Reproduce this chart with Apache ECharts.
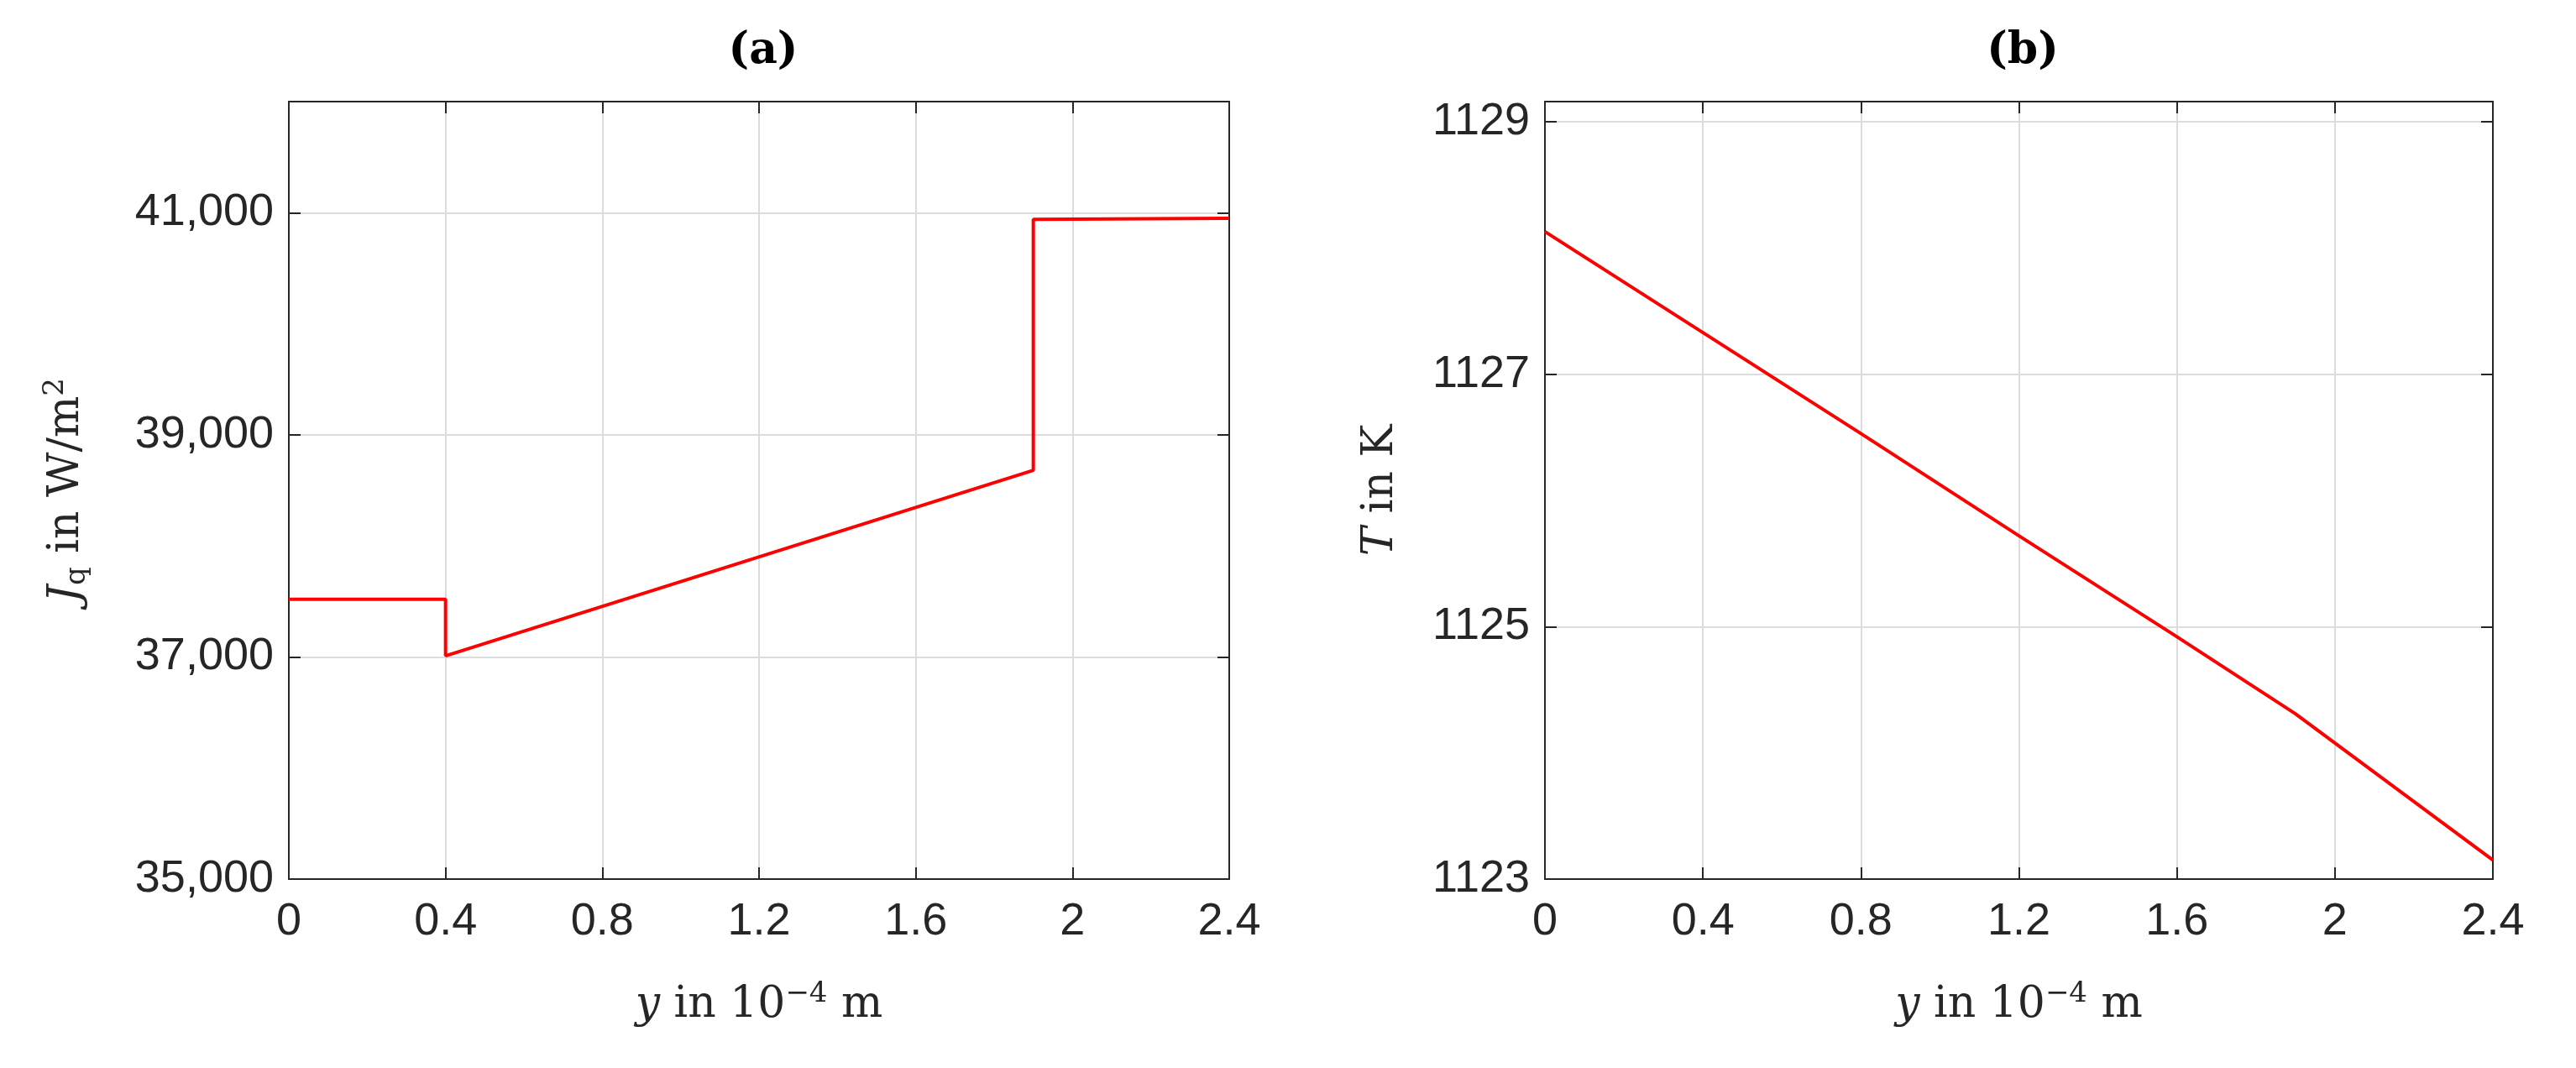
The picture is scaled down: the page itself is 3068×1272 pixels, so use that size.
<!DOCTYPE html>
<html>
<head>
<meta charset="utf-8">
<title>Jq and T profiles</title>
<script src="https://cdn.jsdelivr.net/npm/echarts@6/dist/echarts.min.js"></script>
<style>
  * { margin: 0; padding: 0; }
  body { background: #fff; }
  #main { width: 3068px; height: 1272px; }
</style>
</head>
<body>
<div id="main"></div>
<script>
// panel (a): heat flux, piecewise with jumps at 0.4 and 1.9
const fluxY = [0, 0.4, 0.4, 1.9, 1.9, 2.4];
const fluxJ = [37520, 37520, 37010, 38680, 40940, 40950];
// panel (b): temperature
const tempY = [0, 0.4, 0.8, 1.2, 1.6, 1.9, 2.4];
const tempT = [1128.13, 1127.33, 1126.53, 1125.72, 1124.92, 1124.31, 1123.15];

const tickFont = { fontFamily: 'Liberation Sans', fontSize: 54, color: '#262626' };
const serif = 'DejaVu Serif';
const axisCol = '#262626';
const tick = { show: true, inside: true, length: 14, lineStyle: { color: axisCol, width: 2 } };

function mirror(kind, gi, min, max, interval) {
    // box side with inward ticks and no labels
    return {
        type: 'value', gridIndex: gi, min: min, max: max, interval: interval,
        position: kind === 'x' ? 'top' : 'right',
        axisLine: { show: true, onZero: false, lineStyle: { color: axisCol, width: 2 } },
        axisTick: tick, axisLabel: { show: false }, splitLine: { show: false }
    };
}

function xMain(gi) {
    return {
        type: 'value', gridIndex: gi, min: 0, max: 2.4, interval: 0.4,
        axisLine: { show: true, onZero: false, lineStyle: { color: axisCol, width: 2 } },
        axisTick: tick,
        axisLabel: Object.assign({ margin: 24, formatter: v => String(+v.toFixed(1)) }, tickFont),
        splitLine: { show: true, lineStyle: { color: '#dcdcdc', width: 2 } },
        name: '{i|y} in 10{s|−4} m', nameLocation: 'middle', nameGap: 120,
        nameTextStyle: {
            fontFamily: serif, fontSize: 52, color: axisCol,
            rich: { i: { fontFamily: serif, fontStyle: 'italic', fontSize: 52 },
                    s: { fontFamily: serif, fontSize: 34, verticalAlign: 'top', padding: [0, 0, 26, 0] } }
        }
    };
}

const chart = echarts.init(document.getElementById('main'));
chart.setOption({
    animation: false,
    title: [
        { text: '(a)', left: 904, top: 30, textAlign: 'center',
          textStyle: { fontFamily: serif, fontWeight: 'bold', fontSize: 52, color: '#000' } },
        { text: '(b)', left: 2404, top: 30, textAlign: 'center',
          textStyle: { fontFamily: serif, fontWeight: 'bold', fontSize: 52, color: '#000' } }
    ],
    grid: [
        { left: 344, width: 1120, top: 121, height: 926 },
        { left: 1840, width: 1129, top: 121, height: 926 }
    ],
    xAxis: [xMain(0), xMain(1), mirror('x', 0, 0, 2.4, 0.4), mirror('x', 1, 0, 2.4, 0.4)],
    yAxis: [
        {
            type: 'value', gridIndex: 0, min: 35000, max: 42000, interval: 2000,
            axisLine: { show: true, onZero: false, lineStyle: { color: axisCol, width: 2 } },
            axisTick: tick,
            axisLabel: Object.assign({ margin: 18, showMaxLabel: false,
                formatter: v => v.toLocaleString('en-US') }, tickFont),
            splitLine: { show: true, lineStyle: { color: '#dcdcdc', width: 2 } },
            name: '{i|J}{s|q} in W/m{p|2}', nameLocation: 'middle', nameGap: 235, nameRotate: 90,
            nameTextStyle: {
                fontFamily: serif, fontSize: 52, color: axisCol,
                rich: { i: { fontFamily: serif, fontStyle: 'italic', fontSize: 52 },
                        s: { fontFamily: serif, fontSize: 34, verticalAlign: 'bottom', padding: [22, 0, 0, 0] },
                        p: { fontFamily: serif, fontSize: 34, verticalAlign: 'top', padding: [0, 0, 26, 0] } }
            }
        },
        {
            type: 'value', gridIndex: 1, min: 1123, max: 1129.16, interval: 2,
            axisLine: { show: true, onZero: false, lineStyle: { color: axisCol, width: 2 } },
            axisTick: tick,
            axisLabel: Object.assign({ margin: 18, showMaxLabel: false,
                formatter: v => Number.isInteger(v) ? String(v) : '' }, tickFont),
            splitLine: { show: true, lineStyle: { color: '#dcdcdc', width: 2 } },
            name: '{i|T} in K', nameLocation: 'middle', nameGap: 170, nameRotate: 90,
            nameTextStyle: {
                fontFamily: serif, fontSize: 52, color: axisCol,
                rich: { i: { fontFamily: serif, fontStyle: 'italic', fontSize: 52 } }
            }
        },
        mirror('y', 0, 35000, 42000, 2000),
        mirror('y', 1, 1123, 1129.16, 2)
    ],
    series: [
        { type: 'line', xAxisIndex: 0, yAxisIndex: 0, showSymbol: false,
          lineStyle: { color: '#ff0000', width: 4 },
          data: fluxY.map((y, i) => [y, fluxJ[i]]) },
        { type: 'line', xAxisIndex: 1, yAxisIndex: 1, showSymbol: false,
          lineStyle: { color: '#ff0000', width: 4 },
          data: tempY.map((y, i) => [y, tempT[i]]) }
    ]
});
</script>
</body>
</html>
